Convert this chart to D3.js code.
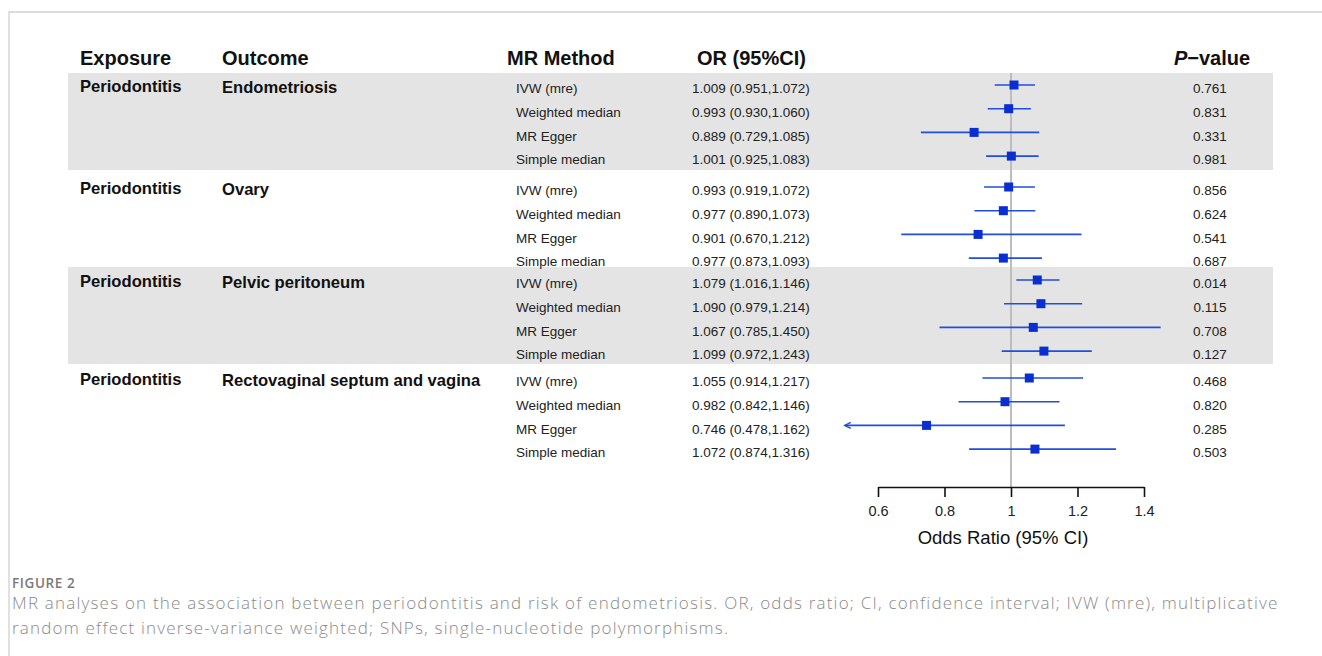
<!DOCTYPE html>
<html>
<head>
<meta charset="utf-8">
<script src="https://cdn.jsdelivr.net/npm/d3@7"></script>
<style>
  html, body { margin: 0; padding: 0; background: #ffffff; }
  svg { display: block; }
</style>
</head>
<body>
<svg id="chart" width="1322" height="656"></svg>
<script>
// ---------------- data ----------------
const exposures = ["Periodontitis", "Periodontitis", "Periodontitis", "Periodontitis"];
const outcomes = ["Endometriosis", "Ovary", "Pelvic peritoneum", "Rectovaginal septum and vagina"];
const methods = ["IVW (mre)", "Weighted median", "MR Egger", "Simple median"];
const orValues = [
  [1.009, 0.993, 0.889, 1.001],
  [0.993, 0.977, 0.901, 0.977],
  [1.079, 1.090, 1.067, 1.099],
  [1.055, 0.982, 0.746, 1.072]
];
const lowerCI = [
  [0.951, 0.930, 0.729, 0.925],
  [0.919, 0.890, 0.670, 0.873],
  [1.016, 0.979, 0.785, 0.972],
  [0.914, 0.842, 0.478, 0.874]
];
const upperCI = [
  [1.072, 1.060, 1.085, 1.083],
  [1.072, 1.073, 1.212, 1.093],
  [1.146, 1.214, 1.450, 1.243],
  [1.217, 1.146, 1.162, 1.316]
];
const pValues = [
  ["0.761", "0.831", "0.331", "0.981"],
  ["0.856", "0.624", "0.541", "0.687"],
  ["0.014", "0.115", "0.708", "0.127"],
  ["0.468", "0.820", "0.285", "0.503"]
];
const tickValues = [0.6, 0.8, 1, 1.2, 1.4];
const tickLabels = ["0.6", "0.8", "1", "1.2", "1.4"];
const shadedGroups = [0, 2];
const headers = ["Exposure", "Outcome", "MR Method", "OR (95%CI)"];
const axisTitle = "Odds Ratio (95% CI)";
const clipMin = 0.5;
const captionLabel = "FIGURE 2";
const captionLines = [
  "MR analyses on the association between periodontitis and risk of endometriosis. OR, odds ratio; CI, confidence interval; IVW (mre), multiplicative",
  "random effect inverse-variance weighted; SNPs, single-nucleotide polymorphisms."
];

// ---------------- layout ----------------
const svg = d3.select("#chart");
const FONT = "'Liberation Sans', Arial, Helvetica, sans-serif";

const x = d3.scaleLinear().domain([0.6, 1.4]).range([878, 1144]);
const groupBand = d3.scaleBand().domain(d3.range(outcomes.length)).range([73, 73 + 97 * outcomes.length]).padding(0);
const groupShift = [0, 5, 1, 2]; // small vertical layout nudges per block
const rowY = (g, i) => groupBand(g) + 12 + groupShift[g] + i * 23.7;

// frame
svg.append("path")
  .attr("d", "M9,656 L9,12 L1322,12")
  .attr("fill", "none").attr("stroke", "#d2d2d2").attr("stroke-width", 1.3);

// shaded bands
svg.selectAll("rect.band").data(shadedGroups).join("rect")
  .attr("class", "band")
  .attr("x", 68).attr("width", 1273 - 68)
  .attr("y", g => groupBand(g)).attr("height", groupBand.bandwidth())
  .attr("fill", "#e4e4e4");

// headers
const headerX = [80, 222, 507, 697];
svg.selectAll("text.hdr").data(headers).join("text")
  .attr("class", "hdr")
  .attr("x", (d, i) => headerX[i]).attr("y", 65)
  .attr("font-family", FONT).attr("font-size", 20).attr("font-weight", "bold")
  .attr("fill", "#111").text(d => d);
const pHdr = svg.append("text")
  .attr("x", 1212).attr("y", 65).attr("text-anchor", "middle")
  .attr("font-family", FONT).attr("font-size", 20).attr("font-weight", "bold").attr("fill", "#111");
pHdr.append("tspan").attr("font-style", "italic").text("P");
pHdr.append("tspan").text("\u2212value");

// group labels
const groups = svg.selectAll("g.grp").data(d3.range(outcomes.length)).join("g").attr("class", "grp");
groups.append("text")
  .attr("x", 80).attr("y", g => groupBand(g) + 19 + groupShift[g])
  .attr("font-family", FONT).attr("font-size", 16.6).attr("font-weight", "bold").attr("fill", "#111")
  .text(g => exposures[g]);
groups.append("text")
  .attr("x", 222).attr("y", g => groupBand(g) + 19.5 + groupShift[g])
  .attr("font-family", FONT).attr("font-size", 16.6).attr("font-weight", "bold").attr("fill", "#111")
  .text(g => outcomes[g]);

// rows
const rows = [];
orValues.forEach((arr, g) => arr.forEach((v, i) => rows.push({
  g, i, or: v, lo: lowerCI[g][i], hi: upperCI[g][i], p: pValues[g][i], method: methods[i]
})));

const txt = svg.append("g").attr("font-family", FONT).attr("font-size", 13.5).attr("fill", "#222");
txt.selectAll("text.m").data(rows).join("text").attr("class", "m")
  .attr("x", 516).attr("y", d => rowY(d.g, d.i) + 8.2).text(d => d.method);
txt.selectAll("text.or").data(rows).join("text").attr("class", "or")
  .attr("x", 692).attr("y", d => rowY(d.g, d.i) + 8.2)
  .text(d => `${d.or.toFixed(3)} (${d.lo.toFixed(3)},${d.hi.toFixed(3)})`);
txt.selectAll("text.p").data(rows).join("text").attr("class", "p")
  .attr("x", 1210).attr("y", d => rowY(d.g, d.i) + 8.2).attr("text-anchor", "middle").text(d => d.p);

// reference line
svg.append("line")
  .attr("x1", x(1)).attr("x2", x(1)).attr("y1", 73).attr("y2", 487)
  .attr("stroke", "#bdbdbd").attr("stroke-width", 2);

// CI lines
const blueLine = "#1f4ee0";
const blueBox = "#0a2fd0";
const marks = svg.append("g");
marks.selectAll("line.ci").data(rows).join("line").attr("class", "ci")
  .attr("x1", d => x(Math.max(d.lo, clipMin))).attr("x2", d => x(d.hi))
  .attr("y1", d => rowY(d.g, d.i)).attr("y2", d => rowY(d.g, d.i))
  .attr("stroke", blueLine).attr("stroke-width", 1.6);
// arrows for clipped lower CIs
marks.selectAll("path.arrow").data(rows.filter(d => d.lo < clipMin)).join("path").attr("class", "arrow")
  .attr("d", d => {
    const ax = x(clipMin), ay = rowY(d.g, d.i);
    return `M${ax + 6},${ay - 3} L${ax},${ay} L${ax + 6},${ay + 3}`;
  })
  .attr("fill", "none").attr("stroke", blueLine).attr("stroke-width", 1.4);
const box = 9;
marks.selectAll("rect.pt").data(rows).join("rect").attr("class", "pt")
  .attr("x", d => x(d.or) - box / 2).attr("y", d => rowY(d.g, d.i) - box / 2)
  .attr("width", box).attr("height", box).attr("fill", blueBox);

// axis
const axis = d3.axisBottom(x).tickValues(tickValues)
  .tickFormat((d, i) => tickLabels[i]).tickSize(10).tickPadding(9).tickSizeOuter(0);
const ax = svg.append("g").attr("transform", "translate(0,487)").call(axis);
ax.select(".domain").attr("stroke", "#111").attr("stroke-width", 1.6);
ax.selectAll(".tick line").attr("stroke", "#111").attr("stroke-width", 1.6);
ax.selectAll(".tick text").attr("font-family", FONT).attr("font-size", 14.5).attr("fill", "#222");
svg.append("text")
  .attr("x", 1003).attr("y", 544).attr("text-anchor", "middle")
  .attr("font-family", FONT).attr("font-size", 18.5).attr("fill", "#111").text(axisTitle);

// caption
const CAP = "'Open Sans', 'Noto Sans', sans-serif";
svg.append("text").attr("x", 12).attr("y", 588)
  .attr("font-family", CAP).attr("font-size", 13.5).attr("font-weight", 600)
  .attr("letter-spacing", 0.6).attr("fill", "#7a7a7a")
  .text(captionLabel);
svg.selectAll("text.cap").data(captionLines).join("text").attr("class", "cap")
  .attr("x", 12).attr("y", (d, i) => 609 + i * 25)
  .attr("font-family", CAP).attr("font-size", 17).attr("font-weight", 300)
  .attr("letter-spacing", 1.2).attr("fill", "#8a8a8a")
  .text(d => d);
</script>
</body>
</html>
